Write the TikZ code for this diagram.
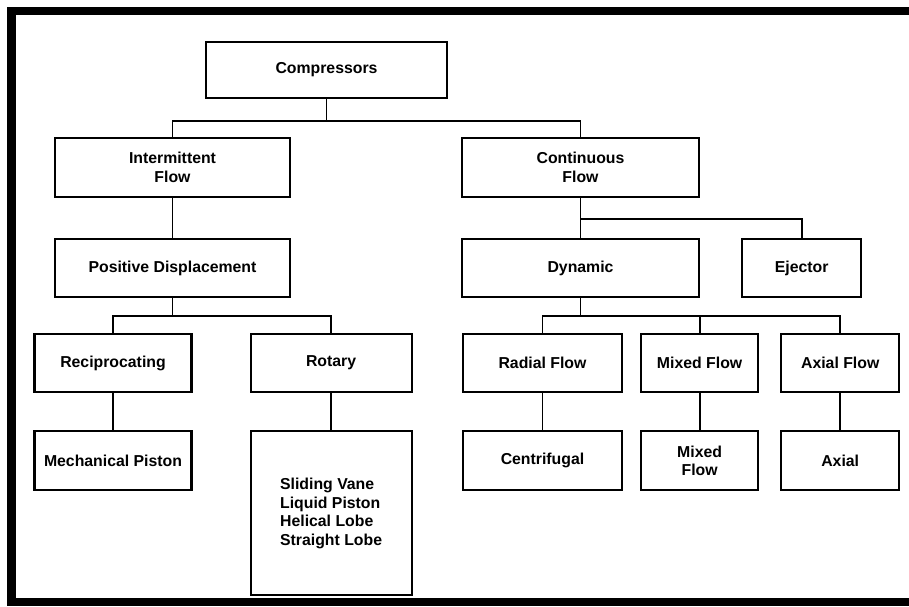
\documentclass[tikz,border=0pt]{standalone}
\usepackage{fontspec}
\setmainfont{Liberation Sans}
\usepackage{tikz}
\usetikzlibrary{positioning}

\begin{document}
\begin{tikzpicture}[
    node distance=0.8cm and 1.0cm,
    blk/.style={rectangle, draw, line width=1.2pt, minimum height=1.17cm, inner sep=2pt, font=\fontsize{9}{10.5}\selectfont\bfseries, align=center},
    con/.style={line width=1.1pt},
    frame/.style={line width=0.16cm, miter limit=10},
]
    \useasboundingbox (0,0) rectangle (18.18,-12.12);
    \draw[frame] (18.18,-0.22) -- (0.23,-0.22) -- (0.23,-12.04) -- (18.18,-12.04);

    \node[blk, minimum width=4.82cm, minimum height=1.12cm] (comp) at (6.53,-1.40) {Compressors};

    \node[blk, minimum width=4.70cm] (inter) at (3.45,-3.35) {Intermittent\\Flow};
    \node[blk, minimum width=4.74cm] (cont) at (11.61,-3.35) {Continuous\\Flow};

    \node[blk, minimum width=4.70cm, below=of inter] (pd) {Positive Displacement};
    \node[blk, minimum width=4.74cm, below=of cont] (dyn) {Dynamic};
    \node[blk, minimum width=2.38cm, right=0.82cm of dyn] (ej) {Ejector};

    \node[blk, minimum width=3.14cm] (recip) at (2.26,-7.26) {Reciprocating};
    \node[blk, minimum width=3.22cm, right=1.14cm of recip] (rot) {Rotary};
    \node[blk, minimum width=3.18cm] (radial) at (10.85,-7.26) {Radial Flow};
    \node[blk, minimum width=2.34cm, right=0.34cm of radial] (mixed) {Mixed Flow};
    \node[blk, minimum width=2.36cm, right=0.42cm of mixed] (axial) {Axial Flow};

    \node[blk, minimum width=3.14cm, below=0.74cm of recip] (mech) {Mechanical Piston};
    \node[blk, minimum width=3.22cm, minimum height=3.28cm, align=left, below=0.74cm of rot] (rotlist) {Sliding Vane\\Liquid Piston\\Helical Lobe\\Straight Lobe};
    \node[blk, minimum width=3.18cm, below=0.74cm of radial] (centri) {Centrifugal};
    \node[blk, minimum width=2.34cm, below=0.74cm of mixed] (mixed2) {Mixed\\Flow};
    \node[blk, minimum width=2.36cm, below=0.74cm of axial] (axial2) {Axial};

    % tree links
    \draw[con] (comp.south) -- ++(0,-0.44) coordinate (b1);
    \draw[con] (inter.north) |- (b1) -| (cont.north);
    \draw[con] (inter) -- (pd);
    \draw[con] (cont.south) -- ++(0,-0.42) coordinate (b2) -- (dyn.north);
    \draw[con] (b2) -| (ej.north);

    \draw[con] (pd.south) -- ++(0,-0.36) coordinate (b3);
    \draw[con] (recip.north) |- (b3) -| (rot.north);
    \draw[con] (dyn.south) -- ++(0,-0.36) coordinate (b4);
    \draw[con] (radial.north) |- (b4) -| (axial.north);
    \draw[con] (b4 -| mixed.north) -- (mixed.north);

    \draw[con] (recip) -- (mech);
    \draw[con] (rot) -- (rotlist);
    \draw[con] (radial) -- (centri);
    \draw[con] (mixed) -- (mixed2);
    \draw[con] (axial) -- (axial2);
\end{tikzpicture}
\end{document}
